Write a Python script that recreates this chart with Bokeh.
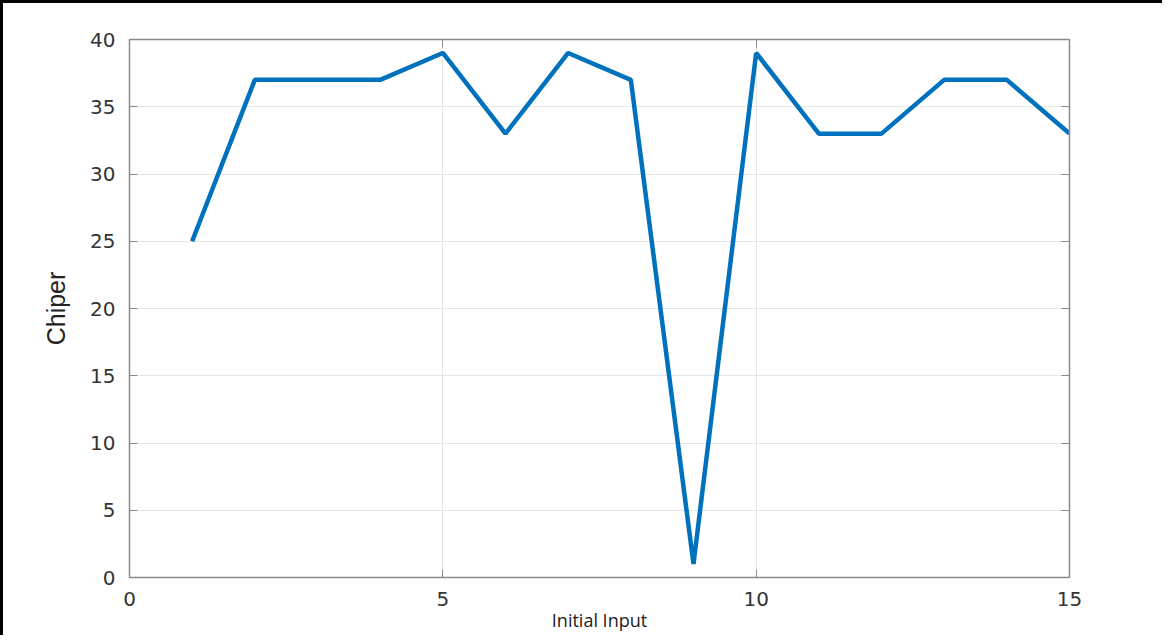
from bokeh.plotting import figure
from bokeh.models import LinearAxis, FixedTicker, Range1d
from bokeh.embed import file_html
from bokeh.resources import INLINE

x_input = [1, 2, 3, 4, 5, 6, 7, 8, 9, 10, 11, 12, 13, 14, 15]
chiper = [25, 37, 37, 37, 39, 33, 39, 37, 1, 39, 33, 33, 37, 37, 33]
x_ticks = [0, 5, 10, 15]
y_ticks = [0, 5, 10, 15, 20, 25, 30, 35, 40]

p = figure(width=1162, height=635, output_backend="svg", toolbar_location=None,
           x_range=Range1d(0, 15), y_range=Range1d(0, 40),
           min_border_left=126, min_border_top=36, min_border_right=96, min_border_bottom=61,
           styles={"border-left": "3px solid black", "border-top": "3px solid black"})

p.line(x_input, chiper, line_color="#0072BD", line_width=4.5)

p.outline_line_color = None
p.background_fill_color = "white"

axis_color = "#8a8a8a"
tick_font = "DejaVu Sans"

for ax in [p.xaxis[0], p.yaxis[0]]:
    ax.axis_line_color = axis_color
    ax.axis_line_width = 1.5
    ax.major_tick_line_color = axis_color
    ax.major_tick_in = 8
    ax.major_tick_out = 0
    ax.minor_tick_line_color = None
    ax.major_label_text_font = tick_font
    ax.major_label_text_font_size = "20px"
    ax.major_label_text_color = "#333333"

p.xaxis.ticker = FixedTicker(ticks=x_ticks)
p.yaxis.ticker = FixedTicker(ticks=y_ticks)
p.xaxis.major_label_standoff = 14
p.yaxis.major_label_standoff = 14

p.xaxis.axis_label = "Initial Input"
p.xaxis.axis_label_text_font = "Open Sans"
p.xaxis.axis_label_text_font_style = "normal"
p.xaxis.axis_label_text_font_size = "18px"
p.xaxis.axis_label_text_color = "#222222"
p.xaxis.axis_label_standoff = -1

p.yaxis.axis_label = "Chiper"
p.yaxis.axis_label_text_font = "Liberation Sans"
p.yaxis.axis_label_text_font_style = "normal"
p.yaxis.axis_label_text_font_size = "25px"
p.yaxis.axis_label_text_color = "#222222"
p.yaxis.axis_label_standoff = 17

# box axes on top/right (ticks only)
top = LinearAxis(ticker=FixedTicker(ticks=x_ticks),
                 major_label_overrides={t: "" for t in x_ticks},
                 axis_line_color=axis_color, axis_line_width=1.5,
                 major_tick_line_color=axis_color, major_tick_in=8, major_tick_out=0,
                 minor_tick_line_color=None, major_label_standoff=0)
right = LinearAxis(ticker=FixedTicker(ticks=y_ticks),
                   major_label_overrides={t: "" for t in y_ticks},
                   axis_line_color=axis_color, axis_line_width=1.5,
                   major_tick_line_color=axis_color, major_tick_in=8, major_tick_out=0,
                   minor_tick_line_color=None, major_label_standoff=0)
p.add_layout(top, "above")
p.add_layout(right, "right")

p.xgrid.ticker = FixedTicker(ticks=x_ticks)
p.ygrid.ticker = FixedTicker(ticks=y_ticks)
p.xgrid.grid_line_color = "#e6e6e6"
p.ygrid.grid_line_color = "#e6e6e6"

open("out.html", "w").write(file_html(p, INLINE))
